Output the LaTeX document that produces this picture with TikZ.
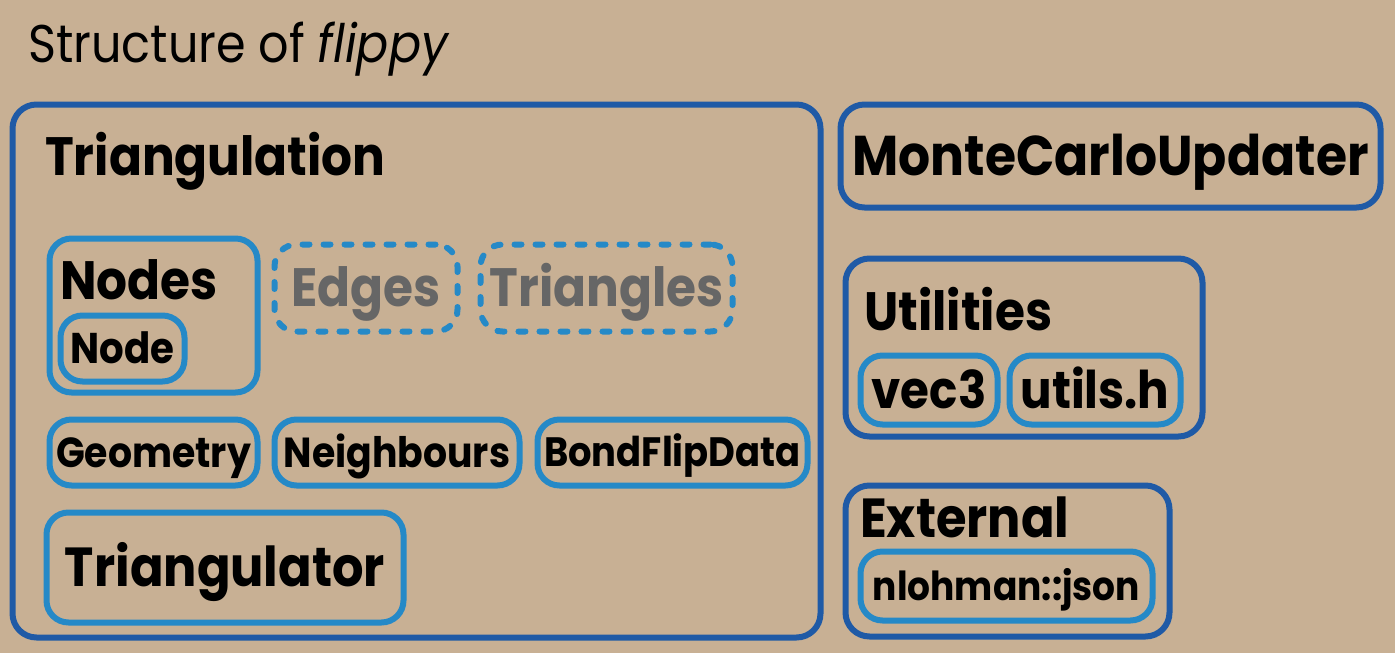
\documentclass[tikz,border=0pt]{standalone}
\usepackage{fontspec}
\setmainfont{Poppins}[FakeStretch=0.9]
\usepackage{tikz}
\usetikzlibrary{positioning}
\definecolor{flipbg}{HTML}{C8B094}
\definecolor{flipdark}{HTML}{1F5AA6}
\definecolor{fliplight}{HTML}{2589C7}
\definecolor{flipgrey}{HTML}{666666}
\newcommand{\fsz}[1]{\fontsize{#1}{#1}\selectfont}

\begin{document}
\begin{tikzpicture}[x=1pt, y=-1pt,
  groupbox/.style={draw=flipdark, line width=6pt, rounded corners=24pt, inner sep=0pt},
  partbox/.style={draw=fliplight, line width=6pt, rounded corners=22pt, inner sep=0pt},
  dashbox/.style={partbox, line cap=round, dash pattern=on 7pt off 14pt, text=flipgrey},
  lbl/.style={font=\bfseries\fsz{#1}, text depth=0pt, text height=0.7*#1pt},
  grouptitle/.style={anchor=base west, inner sep=0pt, font=\bfseries\fsz{#1}}]
\fill[flipbg] (0,0) rectangle (1395,653);
\useasboundingbox (0,0) rectangle (1395,653);
\node[anchor=base west, inner sep=0pt, font=\fsz{53}] (title) at (28,62) {Structure of \textit{flippy}};

% Triangulation
\node[groupbox, minimum width=808pt, minimum height=533pt] (tri) at (416.5,371) {};
\node[grouptitle=54] (tritext) at (45,175) {Triangulation};
\node[partbox, minimum width=208pt, minimum height=154pt] (nodes) at (153.5,315.5) {};
\node[grouptitle=54] (nodestext) at (60,299) {Nodes};
\node[partbox, lbl=43, minimum width=124pt, minimum height=66pt] (node) at (122.5,348.5) {Node};
\node[dashbox, lbl=54, minimum width=183pt, minimum height=87pt] (edges) at (366,288) {Edges};
\node[dashbox, lbl=54, minimum width=252pt, minimum height=87pt] (triangles) at (606.5,288) {Triangles};
\node[partbox, lbl=42, minimum width=208pt, minimum height=66pt] (geometry) at (153.5,452.5) {Geometry};
\node[partbox, lbl=42, minimum width=245pt, minimum height=66pt] (neighbours) at (397,452.5) {Neighbours};
\node[partbox, lbl=41, minimum width=270pt, minimum height=66pt] (bondflip) at (672.5,452.5) {BondFlipData};
\node[partbox, lbl=55, minimum width=357pt, minimum height=110pt] (triangulator) at (225,567.5) {Triangulator};

% right column
\node[groupbox, lbl=56, minimum width=540pt, minimum height=103pt] (mcu) at (1110.5,156) {MonteCarloUpdater};
\node[groupbox, minimum width=357pt, minimum height=178pt] (utilities) at (1024,347.5) {};
\node[grouptitle=54] (utiltext) at (864,330) {Utilities};
\node[partbox, lbl=52, minimum width=137pt, minimum height=69pt] (vec) at (929,390) {vec3};
\node[partbox, lbl=52, minimum width=171pt, minimum height=69pt] (utilsh) at (1095,390) {utils.h};
\node[groupbox, minimum width=324pt, minimum height=151pt] (external) at (1007.5,561) {};
\node[grouptitle=55] (exttext) at (860,537) {External};
\node[partbox, lbl=40, minimum width=292pt, minimum height=69pt] (json) at (1006.5,586) {nlohman::json};
\end{tikzpicture}
\end{document}
